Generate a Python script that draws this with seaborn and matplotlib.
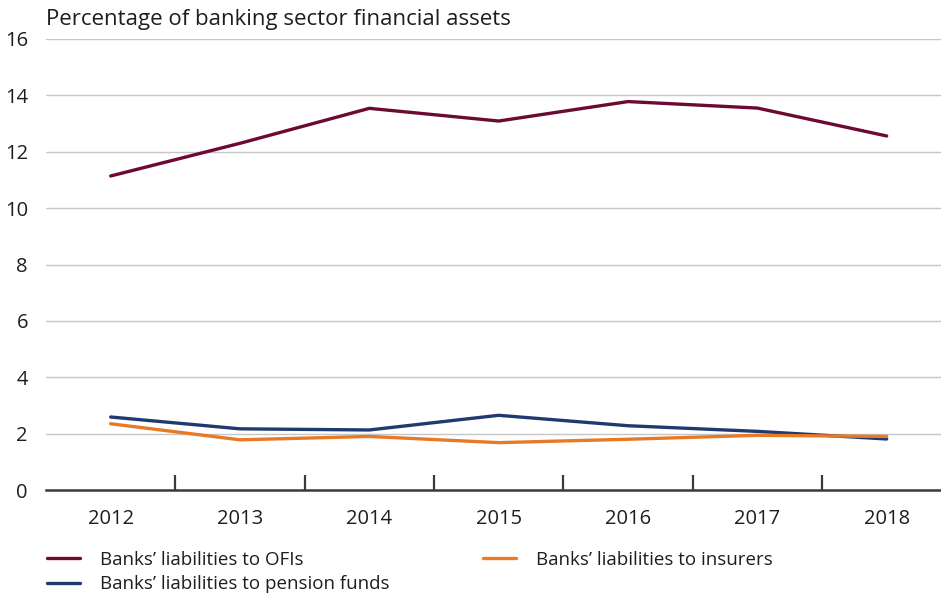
import matplotlib
matplotlib.use("Agg")
import matplotlib.pyplot as plt
from matplotlib.ticker import FixedLocator
import seaborn as sns
import pandas as pd

years = ["2012", "2013", "2014", "2015", "2016", "2017", "2018"]
ofis = [11.14, 12.3, 13.54, 13.09, 13.78, 13.55, 12.56]
pension_funds = [2.59, 2.17, 2.13, 2.65, 2.28, 2.08, 1.81]
insurers = [2.35, 1.78, 1.90, 1.68, 1.80, 1.94, 1.90]

series_names = [
    "Banks\u2019 liabilities to OFIs",
    "Banks\u2019 liabilities to pension funds",
    "Banks\u2019 liabilities to insurers",
]
colors = ["#6b0a33", "#1f3a6e", "#e87a26"]
y_ticks = [0, 2, 4, 6, 8, 10, 12, 14, 16]

frames = []
for name, vals in zip(series_names, [ofis, pension_funds, insurers]):
    frames.append(pd.DataFrame({"year": range(len(years)), "value": vals, "series": name}))
df = pd.concat(frames, ignore_index=True)

sns.set_style("white")
plt.rcParams["font.family"] = ["Open Sans", "DejaVu Sans"]

text_color = "#1e1e1e"

fig = plt.figure(figsize=(9.41, 5.94), dpi=100)
ax = fig.add_axes([46 / 941, 1 - 490 / 594, 1 - 46 / 941, (490 - 39) / 594])

sns.lineplot(data=df, x="year", y="value", hue="series", hue_order=series_names,
             palette=colors, linewidth=2.4, ax=ax, legend=False)

ax.set_ylim(0, 16)
ax.set_xlim(-0.5, 6.42)
ax.set_yticks(y_ticks)
ax.set_yticklabels([str(t) for t in y_ticks])
ax.set_xticks(range(len(years)))
ax.set_xticklabels(years)
ax.xaxis.set_minor_locator(FixedLocator([i + 0.5 for i in range(len(years) - 1)]))

ax.grid(axis="y", color="#c6c6c6", linewidth=1.0)
ax.set_axisbelow(True)
for s in ["top", "right", "left"]:
    ax.spines[s].set_visible(False)
ax.spines["bottom"].set_color("#3a3a3a")
ax.spines["bottom"].set_linewidth(1.8)
ax.spines["bottom"].set_zorder(5)

ax.tick_params(axis="y", length=0, pad=13, labelsize=14.5, labelcolor=text_color)
ax.tick_params(axis="x", which="major", length=0, pad=14, labelsize=14.5, labelcolor=text_color)
ax.tick_params(axis="x", which="minor", bottom=True, direction="in", length=11,
               width=1.6, color="#3a3a3a")
ax.set_xlabel("")
ax.set_ylabel("")

fig.text(46 / 941, 1 - 19 / 594, "Percentage of banking sector financial assets",
         fontsize=16, color=text_color, va="center", ha="left")

handles = [plt.Line2D([], [], color=c, linewidth=2.4) for c in colors]
fig.legend(handles, series_names, ncol=2, loc="upper left",
           bbox_to_anchor=(47 / 941, 1 - 551 / 594), frameon=False,
           fontsize=13.5, handlelength=1.76, handletextpad=1.07, labelcolor=text_color,
           columnspacing=5.0, labelspacing=0.33, borderaxespad=0, borderpad=0)

fig.savefig("out.png", dpi=100)
